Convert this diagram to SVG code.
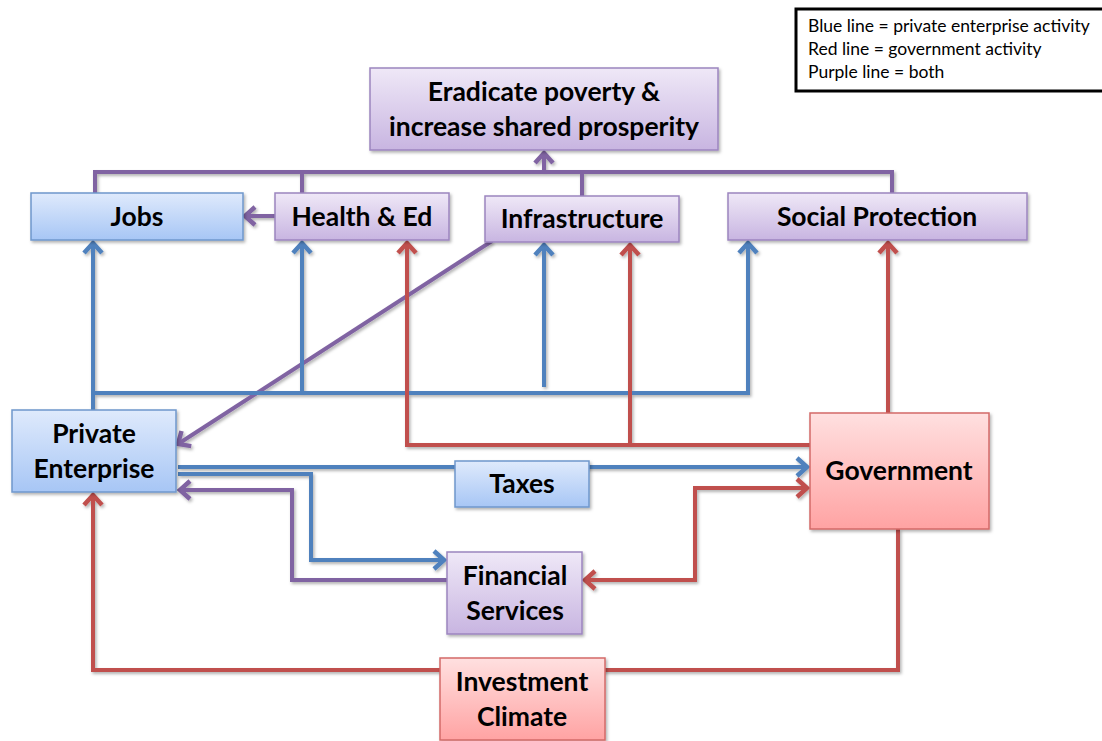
<svg xmlns="http://www.w3.org/2000/svg" width="1102" height="741" viewBox="0 0 1102 741">
<style>
.t{font-family:Lato,"Open Sans","Liberation Sans",sans-serif;font-weight:bold;font-size:26.5px;fill:#000;text-anchor:middle}
.lg{font-family:Lato,"Open Sans","Liberation Sans",sans-serif;font-size:17.5px;fill:#000}
.c{fill:none;stroke-width:4;stroke-linejoin:miter}
.b{stroke:#4f81bd}.r{stroke:#c0504d}.p{stroke:#8064a2}
.nb{fill:url(#gb);stroke:#6f97cc;stroke-width:1.5}
.np{fill:url(#gp);stroke:#9c85bf;stroke-width:1.5}
.nr{fill:url(#gr);stroke:#d36a68;stroke-width:1.5}
</style>
<defs>
<linearGradient id="gb" x1="0" y1="0" x2="0" y2="1"><stop offset="0" stop-color="#dfeafc"/><stop offset="1" stop-color="#a7c6f5"/></linearGradient>
<linearGradient id="gp" x1="0" y1="0" x2="0" y2="1"><stop offset="0" stop-color="#efe8f7"/><stop offset="1" stop-color="#c8b5e1"/></linearGradient>
<linearGradient id="gr" x1="0" y1="0" x2="0" y2="1"><stop offset="0" stop-color="#ffe0e0"/><stop offset="1" stop-color="#ffa3a3"/></linearGradient>
<filter id="sh" x="-10%" y="-10%" width="130%" height="140%"><feDropShadow dx="1.5" dy="2" stdDeviation="1.5" flood-color="#000" flood-opacity="0.3"/></filter>
<marker id="ab" markerUnits="userSpaceOnUse" viewBox="-14 -12 18 24" refX="0" refY="0" markerWidth="18" markerHeight="24" orient="auto-start-reverse" overflow="visible"><path d="M-10,-9 L0,0 L-10,9" fill="none" stroke="#4f81bd" stroke-width="4.5" stroke-linejoin="miter"/></marker>
<marker id="ar" markerUnits="userSpaceOnUse" viewBox="-14 -12 18 24" refX="0" refY="0" markerWidth="18" markerHeight="24" orient="auto-start-reverse" overflow="visible"><path d="M-10,-9 L0,0 L-10,9" fill="none" stroke="#c0504d" stroke-width="4.5" stroke-linejoin="miter"/></marker>
<marker id="ap" markerUnits="userSpaceOnUse" viewBox="-14 -12 18 24" refX="0" refY="0" markerWidth="18" markerHeight="24" orient="auto-start-reverse" overflow="visible"><path d="M-10,-9 L0,0 L-10,9" fill="none" stroke="#8064a2" stroke-width="4.5" stroke-linejoin="miter"/></marker>
</defs>
<rect width="1102" height="741" fill="#fff"/>

<g id="connectors" filter="url(#sh)">
<path class="c p" d="M95,193 V172 H892 V193"/>
<path class="c p" d="M302,172 V193"/>
<path class="c p" d="M582,172 V196"/>
<path class="c p" d="M544,172 V153" marker-end="url(#ap)"/>
<path class="c p" d="M275,216 H245" marker-end="url(#ap)"/>
<path class="c p" d="M492,241 L178,444" marker-end="url(#ap)"/>
<path class="c b" d="M93,410 V243" marker-end="url(#ab)"/>
<path class="c b" d="M93,393 H748 V243" marker-end="url(#ab)"/>
<path class="c b" d="M302,393 V243" marker-end="url(#ab)"/>
<path class="c b" d="M544,387 V245" marker-end="url(#ab)"/>
<path class="c r" d="M810,445 H407 V243" marker-end="url(#ar)"/>
<path class="c r" d="M630,445 V245" marker-end="url(#ar)"/>
<path class="c r" d="M888,413 V243" marker-end="url(#ar)"/>
<path class="c b" d="M178,467 H807" marker-end="url(#ab)"/>
<path class="c b" d="M178,474 H311 V560 H444" marker-end="url(#ab)"/>
<path class="c p" d="M447,580 H292 V490 H180" marker-end="url(#ap)"/>
<path class="c r" d="M585,580 H695 V488 H807" marker-start="url(#ar)" marker-end="url(#ar)"/>
<path class="c r" d="M898,529 V670 H93 V495" marker-end="url(#ar)"/>
</g>

<g id="goal"><rect class="np" x="370" y="68" width="348" height="82" filter="url(#sh)"/><text class="t" x="544" y="101">Eradicate poverty &amp;</text><text class="t" x="544" y="136">increase shared prosperity</text></g>
<g id="jobs"><rect class="nb" x="31" y="193" width="212" height="47" filter="url(#sh)"/><text class="t" x="137" y="226">Jobs</text></g>
<g id="health"><rect class="np" x="275" y="193" width="174" height="47" filter="url(#sh)"/><text class="t" x="362" y="226">Health &amp; Ed</text></g>
<g id="infrastructure"><rect class="np" x="485" y="196" width="194" height="46" filter="url(#sh)"/><text class="t" x="582" y="228">Infrastructure</text></g>
<g id="social"><rect class="np" x="728" y="193" width="299" height="47" filter="url(#sh)"/><text class="t" x="877" y="226">Social Protection</text></g>
<g id="private"><rect class="nb" x="12" y="410" width="164" height="82" filter="url(#sh)"/><text class="t" x="94" y="443">Private</text><text class="t" x="94" y="478">Enterprise</text></g>
<g id="taxes"><rect class="nb" x="455" y="461" width="134" height="46" filter="url(#sh)"/><text class="t" x="522" y="493">Taxes</text></g>
<g id="government"><rect class="nr" x="810" y="413" width="179" height="116" filter="url(#sh)"/><text class="t" x="899" y="480">Government</text></g>
<g id="financial"><rect class="np" x="447" y="552" width="135" height="82" filter="url(#sh)"/><text class="t" x="515" y="585">Financial</text><text class="t" x="515" y="620">Services</text></g>
<g id="investment"><rect class="nr" x="440" y="658" width="165" height="82" filter="url(#sh)"/><text class="t" x="522" y="691">Investment</text><text class="t" x="522" y="726">Climate</text></g>

<g id="legend">
<rect x="796" y="9" width="310" height="82" fill="#fff" stroke="#000" stroke-width="3"/>
<text class="lg" x="808" y="32">Blue line = private enterprise activity</text>
<text class="lg" x="808" y="55">Red line = government activity</text>
<text class="lg" x="808" y="78">Purple line = both</text>
</g>
</svg>
